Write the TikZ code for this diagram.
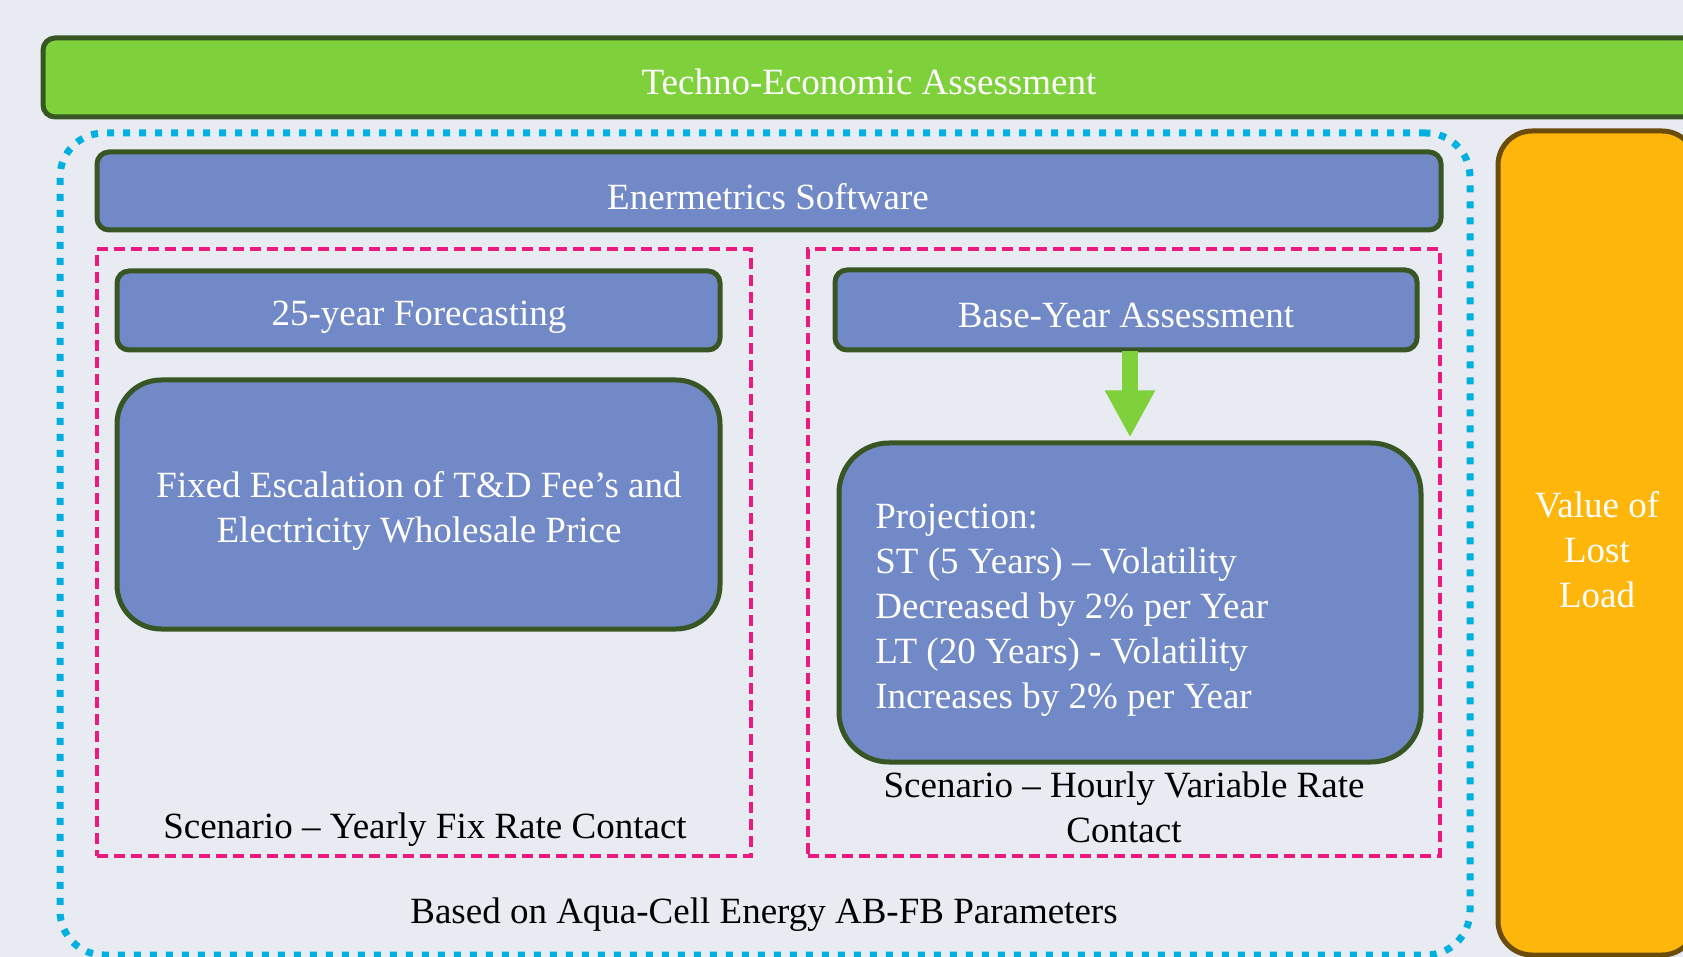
\documentclass[tikz,border=0pt]{standalone}
\usepackage{fontspec}
\setmainfont{Liberation Serif}
\usetikzlibrary{arrows.meta,calc}
\definecolor{bg}{HTML}{E8EBF2}
\definecolor{tgreen}{HTML}{7ED13A}
\definecolor{dgreen}{HTML}{375623}
\definecolor{tblue}{HTML}{7189C6}
\definecolor{cyanline}{HTML}{00B0E0}
\definecolor{pinkline}{HTML}{EC1A7E}
\definecolor{orangefill}{HTML}{FFB60A}
\definecolor{brownline}{HTML}{6B4C0A}
\tikzset{
  bluebox/.style={draw=dgreen, line width=2.5pt, fill=tblue, text=white, align=center, inner sep=0pt},
  pinkbox/.style={draw=pinkline, line width=1.7pt, dash pattern=on 5.5pt off 3pt, inner sep=0pt},
  label/.style={text=black, align=center, inner sep=0pt},
  wtext/.style={text=white, align=center, inner sep=0pt},
}
\begin{document}
\begin{tikzpicture}[x=0.5pt,y=-0.5pt, font=\fontsize{18.5}{22.5}\selectfont]
\clip (0,0) rectangle (1683,957);
\fill[bg] (0,0) rectangle (1683,957);
% top bar
\node[draw=dgreen, line width=2.5pt, fill=tgreen, rounded corners=6pt, minimum width=826pt, minimum height=39.5pt, inner sep=0pt] (tea) at (869,77.5) {};
\node[wtext] (teat) at (869,82) {Techno-Economic Assessment};
% blue dotted
\node[draw=cyanline, line width=3.5pt, dash pattern=on 3.5pt off 4.5pt, rounded corners=22pt, minimum width=705pt, minimum height=411pt, inner sep=0pt] (outer) at (765,544) {};
% orange
\node[draw=brownline, line width=2.5pt, fill=orangefill, rounded corners=17pt, minimum width=99pt, minimum height=412pt, inner sep=0pt] (vll) at (1597,543) {};
\node[wtext] (vllt) at (1597,550) {Value of\\Lost\\Load};
% Enermetrics
\node[bluebox, rounded corners=6pt, minimum width=672pt, minimum height=39pt] (ener) at (769,191) {};
\node[wtext] (enert) at (768,197) {Enermetrics Software};
% pink boxes
\node[pinkbox, minimum width=327pt, minimum height=303.5pt] (pl) at (424,552.5) {};
\node[pinkbox, minimum width=316pt, minimum height=303.5pt] (pr) at (1124,552.5) {};
% left column
\node[bluebox, rounded corners=6pt, minimum width=301.5pt, minimum height=39.5pt] (fore) at (418.5,310.5) {};
\node[wtext] (foret) at (419,317) {25-year Forecasting};
\node[bluebox, rounded corners=22pt, minimum width=301.5pt, minimum height=124.5pt] (fixed) at (418.5,504.5) {};
\node[wtext] (fixedt) at (419,511) {Fixed Escalation of T\&D Fee’s and\\Electricity Wholesale Price};
% right column
\node[bluebox, rounded corners=6pt, minimum width=291pt, minimum height=40pt] (base) at (1126,310) {};
\node[wtext] (baset) at (1126,315) {Base-Year Assessment};
\node[bluebox, rounded corners=25pt, minimum width=291pt, minimum height=159.5pt] (proj) at (1130,602.5) {};
\node[text=white, align=left, anchor=west, inner sep=0pt] (projt) at (875,610) {Projection:\\ST (5 Years) – Volatility\\Decreased by 2\% per Year\\LT (20 Years) - Volatility\\Increases by 2\% per Year};
\draw[tgreen, line width=8pt, -{Triangle[width=23.5pt,length=23.5pt]}] (base.south -| proj.north) ++(0,-1) -- ($(proj.north)+(0,-3)$);
% labels
\node[label] (sl) at (425,830) {Scenario – Yearly Fix Rate Contact};
\node[label] (sr) at (1124,807.5) {Scenario – Hourly Variable Rate\\Contact};
\node[label] (based) at (764,915) {Based on Aqua-Cell Energy AB-FB Parameters};
\end{tikzpicture}
\end{document}
